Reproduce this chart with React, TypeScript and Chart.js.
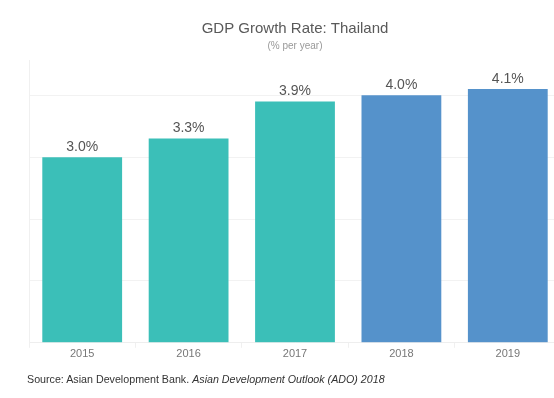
import React, { useEffect, useRef } from "react";
import { Chart, registerables } from "chart.js";

Chart.register(...registerables);

const years = ["2015", "2016", "2017", "2018", "2019"];
const growth = [3.0, 3.3, 3.9, 4.0, 4.1];
const barColors = ["#3bbfb8", "#3bbfb8", "#3bbfb8", "#5592cb", "#5592cb"];
const titleText = "GDP Growth Rate: Thailand";
const subtitleText = "(% per year)";
const yMax = 4.57;

const labelPlugin = {
  id: "barValueLabels",
  afterDatasetsDraw(chart: any) {
    const ctx = chart.ctx;
    const meta = chart.getDatasetMeta(0);
    ctx.save();
    ctx.font = "14px 'Liberation Sans', Arial, sans-serif";
    ctx.fillStyle = "#555555";
    ctx.textAlign = "center";
    ctx.textBaseline = "bottom";
    meta.data.forEach((bar: any, i: number) => {
      ctx.fillText(growth[i].toFixed(1) + "%", bar.x, bar.y - 3);
    });
    ctx.restore();
  },
};

export default function App() {
  const ref = useRef<HTMLCanvasElement | null>(null);
  useEffect(() => {
    if (!ref.current) return;
    const chart = new Chart(ref.current, {
      type: "bar",
      data: {
        labels: years,
        datasets: [
          {
            data: growth,
            backgroundColor: barColors,
            borderWidth: 0,
            barPercentage: 0.75,
            categoryPercentage: 1,
          },
        ],
      },
      options: {
        responsive: false,
        animation: false,
        layout: { padding: { left: 29, right: 29, top: 0, bottom: 37 } },
        plugins: {
          legend: { display: false },
          tooltip: { enabled: false },
          title: {
            display: true,
            text: titleText,
            color: "#595959",
            font: { family: "'Liberation Sans', Arial, sans-serif", size: 15, weight: "normal" },
            padding: { top: 20, bottom: 2 },
          },
          subtitle: {
            display: true,
            text: subtitleText,
            color: "#999999",
            font: { family: "'Liberation Sans', Arial, sans-serif", size: 10, weight: "normal" },
            padding: { top: 0, bottom: 8 },
          },
        },
        scales: {
          x: {
            offset: true,
            grid: {
              offset: true,
              drawOnChartArea: false,
              drawTicks: true,
              tickLength: 5,
              color: "#f0f0f0",
            },
            border: { color: "#eeeeee" },
            ticks: {
              color: "#777777",
              padding: 0,
              font: { family: "'Liberation Sans', Arial, sans-serif", size: 11 },
            },
          },
          y: {
            min: 0,
            max: yMax,
            ticks: { display: false, stepSize: 1 },
            grid: {
              drawTicks: false,
              color: (c: any) =>
                c.tick && Number.isInteger(c.tick.value) ? "#f2f2f2" : "rgba(0,0,0,0)",
            },
            border: { color: "#f0f0f0" },
          },
        },
      },
      plugins: [labelPlugin],
    });
    return () => chart.destroy();
  }, []);

  return (
    <div
      style={{
        position: "fixed",
        left: 0,
        top: 0,
        width: 554,
        height: 398,
        overflow: "hidden",
        background: "#ffffff",
      }}
    >
      <canvas
        ref={ref}
        width={590}
        height={398}
        style={{ position: "absolute", left: 0, top: 0, width: 590, height: 398 }}
      />
      <div
        style={{
          position: "absolute",
          left: 27,
          top: 373,
          fontFamily: "'Liberation Sans', Arial, sans-serif",
          fontSize: 10.7,
          lineHeight: "13px",
          color: "#333333",
          whiteSpace: "nowrap",
        }}
      >
        Source: Asian Development Bank. <i>Asian Development Outlook (ADO) 2018</i>
      </div>
    </div>
  );
}
